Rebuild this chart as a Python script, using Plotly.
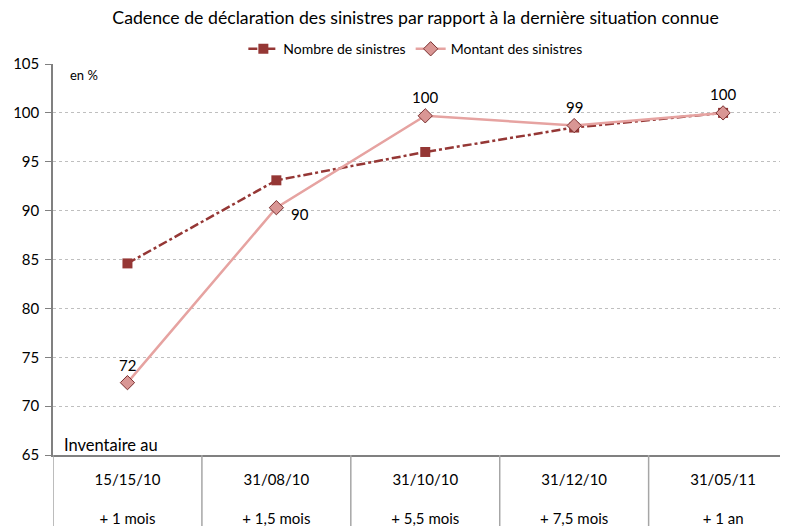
import plotly.graph_objects as go

dates = ["15/15/10", "31/08/10", "31/10/10", "31/12/10", "31/05/11"]
offsets = ["+ 1 mois", "+ 1,5 mois", "+ 5,5 mois", "+ 7,5 mois", "+ 1 an"]
nombre = [84.6, 93.1, 96.0, 98.5, 100.0]
montant = [72.4, 90.3, 99.7, 98.7, 100.0]
# label offsets (pixels) for the Montant data labels
label_dx = [0, 24, 0, 0, 0]
label_dy = [18, -6, 19, 19, 19]

FONT = "Lato"
x = list(range(len(dates)))

fig = go.Figure()
fig.add_trace(go.Scatter(
    x=x, y=nombre, name="Nombre de sinistres", mode="lines+markers",
    line=dict(color="#953735", width=2.5, dash="dashdot"),
    marker=dict(symbol="square", size=10, color="#953735"),
))
fig.add_trace(go.Scatter(
    x=x, y=montant, name="Montant des sinistres", mode="lines+markers",
    line=dict(color="#e6a3a1", width=2.5),
    marker=dict(symbol="diamond", size=11, color="#d99694",
                line=dict(color="#7a3030", width=1)),
))

ticktext = [f"{d}<br><br>{o}" for d, o in zip(dates, offsets)]

shapes = []
for i in range(len(dates)):
    shapes.append(dict(type="line", xref="x", yref="paper",
                       x0=i - 0.5, x1=i - 0.5, y0=0, y1=-0.19,
                       line=dict(color="#a6a6a6", width=1.5)))

annotations = [
    dict(text="en %", xref="paper", yref="paper", x=0.02, y=0.972, xanchor="left",
         yanchor="middle", showarrow=False, font=dict(family=FONT, size=13)),
    dict(text="Inventaire au", xref="paper", yref="paper", x=0.012, y=0.0256, xanchor="left",
         yanchor="middle", showarrow=False, font=dict(family=FONT, size=16.5)),
]
for xi, v, dx, dy in zip(x, montant, label_dx, label_dy):
    annotations.append(dict(text=str(int(round(v))), x=xi, y=v, xref="x", yref="y",
                            xshift=dx, yshift=dy, showarrow=False,
                            font=dict(family=FONT, size=15, color="#000000")))

fig.update_layout(
    template="none",
    width=780, height=518,
    margin=dict(l=44.5, r=0, t=56, b=71, autoexpand=False),
    paper_bgcolor="white", plot_bgcolor="white",
    font=dict(family=FONT, size=14, color="#000000"),
    title=dict(text="Cadence de déclaration des sinistres par rapport à la dernière situation connue",
               x=0.5225, xanchor="center", xref="container", y=1 - 10 / 518, yanchor="middle",
               font=dict(family=FONT, size=17.7, color="#000000")),
    legend=dict(orientation="h", x=0.493, xanchor="center", y=0.997, yanchor="bottom",
                font=dict(family=FONT, size=14, color="#000000"), bgcolor="rgba(0,0,0,0)"),
    showlegend=True,
    shapes=shapes,
    annotations=annotations,
    xaxis=dict(range=[-0.5, 4.436], tickmode="array", tickvals=x, ticktext=ticktext,
               showgrid=False, zeroline=False, showline=True, linecolor="#808080", linewidth=1.5,
               ticks="", automargin=False, ticklabelstandoff=10,
               tickfont=dict(family=FONT, size=15, color="#000000"), fixedrange=True),
    yaxis=dict(range=[65, 105], dtick=5, tick0=65, showgrid=True, gridcolor="#bfbfbf",
               griddash="dot", gridwidth=1, zeroline=False, showline=True, automargin=False,
               linecolor="#808080", linewidth=1.5, ticks="outside", ticklen=6, tickcolor="#808080",
               ticklabelstandoff=3,
               tickfont=dict(family=FONT, size=15, color="#000000")),
)

fig.write_html("out.html")
